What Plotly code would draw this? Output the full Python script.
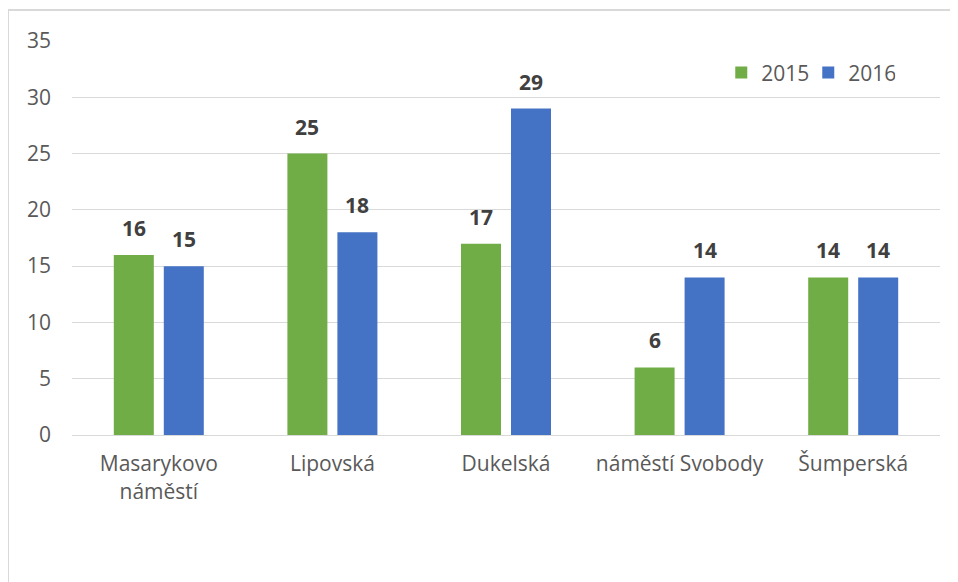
import plotly.graph_objects as go

categories = ["Masarykovo<br>náměstí", "Lipovská", "Dukelská", "náměstí Svobody", "Šumperská"]
values_2015 = [16, 25, 17, 6, 14]
values_2016 = [15, 18, 29, 14, 14]
series_names = ["2015", "2016"]
colors = ["#70AD47", "#4472C4"]

FONT = "Open Sans, Noto Sans, sans-serif"
W, H = 958, 582
OFF = 8  # page body margin in the browser
L, T = 72 - OFF, 41 - OFF
pw, ph = 868, 394
R, B = W - L - pw, H - T - ph

fig = go.Figure()
for name, vals, col in zip(series_names, [values_2015, values_2016], colors):
    fig.add_trace(go.Bar(x=categories, y=vals, name=name, marker=dict(color=col, line=dict(width=0))))

# data labels
for vals, shift in zip([values_2015, values_2016], [-25, 25]):
    for c, v in zip(categories, vals):
        fig.add_annotation(x=c, y=v, text=f"<b>{v}</b>", showarrow=False, xshift=shift,
                           yanchor="bottom", yshift=11,
                           font=dict(family=FONT, size=21, color="#404040"))

def px(x):
    return (x - OFF - L) / pw

def py(y):
    return (T + ph - (y - OFF)) / ph

fig.add_shape(type="path", xref="paper", yref="paper",
              path=f"M {px(8)} {py(600)} L {px(8)} {py(10)} L {px(970)} {py(10)}",
              line=dict(color="#D9D9D9", width=2))

fig.update_layout(
    width=W, height=H,
    margin=dict(l=L, r=R, t=T, b=B),
    paper_bgcolor="white", plot_bgcolor="white",
    barmode="group", bargap=0.424, bargroupgap=0.2,
    font=dict(family=FONT, size=21, color="#595959"),
    legend=dict(orientation="h", x=0.748, y=0.919, xanchor="left", yanchor="middle",
                font=dict(size=21, color="#595959"), itemwidth=30, bgcolor="rgba(0,0,0,0)",
                entrywidth=42, entrywidthmode="pixels"),
    xaxis=dict(showgrid=False, showline=True, linecolor="#D9D9D9", linewidth=1,
               ticks="", ticklabelstandoff=10, tickfont=dict(size=21, color="#595959")),
    yaxis=dict(range=[0, 35], dtick=5, showgrid=True, gridcolor="#D9D9D9", gridwidth=1,
               zeroline=False, showline=False, ticks="", ticklabelstandoff=20,
               tickfont=dict(size=21, color="#595959")),
)

fig.write_html("out.html")
